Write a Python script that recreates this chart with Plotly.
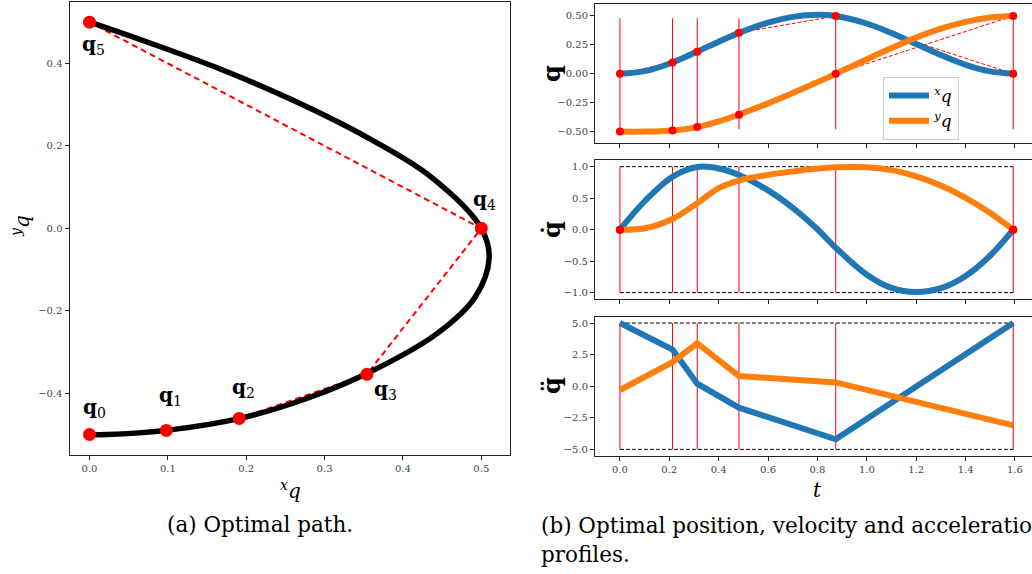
import plotly.graph_objects as go

# ---------------- data ----------------
# sampled trajectory (read from the picture)
t_samp = [0, 0.1, 0.213, 0.313, 0.4, 0.482, 0.6, 0.7, 0.8, 0.874, 1.0, 1.1, 1.2, 1.3, 1.4, 1.5, 1.593]
xq = [0.0, 0.023, 0.098, 0.192, 0.278, 0.354, 0.443, 0.492, 0.510, 0.500, 0.435, 0.352, 0.257, 0.162, 0.078, 0.021, 0.0]
yq = [-0.5, -0.5, -0.49, -0.461, -0.412, -0.352, -0.256, -0.167, -0.072, 0.0, 0.126, 0.223, 0.313, 0.390, 0.449, 0.487, 0.5]
vx = [0.0, 0.451, 0.841, 0.996, 0.971, 0.869, 0.624, 0.347, 0.006, -0.287, -0.715, -0.925, -0.99, -0.93, -0.735, -0.41, 0.0]
vy = [0.0, 0.022, 0.170, 0.420, 0.660, 0.780, 0.870, 0.925, 0.970, 0.990, 0.990, 0.945, 0.845, 0.700, 0.505, 0.265, 0.0]

# waypoints
t_wp = [0.0, 0.213, 0.313, 0.482, 0.874, 1.593]
x_wp = [0.0, 0.098, 0.191, 0.354, 0.5, 0.0]
y_wp = [-0.5, -0.49, -0.461, -0.354, 0.0, 0.5]
wp_labels = ["0", "1", "2", "3", "4", "5"]

# accelerations at waypoints (piecewise linear)
ax_wp = [5.0, 2.9, 0.2, -1.7, -4.2, 5.0]
ay_wp = [-0.3, 1.9, 3.4, 0.8, 0.3, -3.1]

# limits
q_vline = [-0.48, 0.48]
v_lim = [-1.0, 1.0]
a_lim = [-5.0, 5.0]

x_ticks_left = [0.0, 0.1, 0.2, 0.3, 0.4, 0.5]
y_ticks_left = [-0.4, -0.2, 0.0, 0.2, 0.4]
t_ticks = [0.0, 0.2, 0.4, 0.6, 0.8, 1.0, 1.2, 1.4, 1.6]
q_ticks = [-0.5, -0.25, 0.0, 0.25, 0.5]
v_ticks = [-1.0, -0.5, 0.0, 0.5, 1.0]
a_ticks = [-5.0, -2.5, 0.0, 2.5, 5.0]

# ---------------- style ----------------
BLUE = "#1f77b4"
ORANGE = "#ff7f0e"
RED = "#ff0000"
SERIF = "DejaVu Serif"
W, H = 1032, 574

fig = go.Figure()


def vlines(ts, lo, hi):
    xs, ys = [], []
    for t in ts:
        xs += [t, t, None]
        ys += [lo, hi, None]
    return xs, ys


# ---------- left: optimal path ----------
fig.add_trace(go.Scatter(x=x_wp, y=y_wp, mode="lines", line=dict(color=RED, width=2, dash="6px,4px"),
                         xaxis="x", yaxis="y", showlegend=False))
fig.add_trace(go.Scatter(x=xq, y=yq, mode="lines", line=dict(color="black", width=5.5, shape="spline"),
                         xaxis="x", yaxis="y", showlegend=False))
fig.add_trace(go.Scatter(x=x_wp, y=y_wp, mode="markers", marker=dict(color=RED, size=13),
                         xaxis="x", yaxis="y", showlegend=False))

# ---------- right top: positions ----------
vxs, vys = vlines(t_wp, q_vline[0], q_vline[1])
fig.add_trace(go.Scatter(x=vxs, y=vys, mode="lines", line=dict(color=RED, width=1),
                         xaxis="x2", yaxis="y2", showlegend=False))
for ys in (x_wp, y_wp):
    fig.add_trace(go.Scatter(x=t_wp, y=ys, mode="lines", line=dict(color=RED, width=1, dash="4px,2px"),
                             xaxis="x2", yaxis="y2", showlegend=False))
fig.add_trace(go.Scatter(x=t_samp, y=xq, mode="lines", line=dict(color=BLUE, width=6, shape="spline"),
                         xaxis="x2", yaxis="y2", name="<sup><i>x</i></sup><i>q</i>", showlegend=True))
fig.add_trace(go.Scatter(x=t_samp, y=yq, mode="lines", line=dict(color=ORANGE, width=6, shape="spline"),
                         xaxis="x2", yaxis="y2", name="<sup><i>y</i></sup><i>q</i>", showlegend=True))
for ys in (x_wp, y_wp):
    fig.add_trace(go.Scatter(x=t_wp, y=ys, mode="markers", marker=dict(color=RED, size=8),
                             xaxis="x2", yaxis="y2", showlegend=False))

# ---------- right middle: velocities ----------
vxs, vys = vlines(t_wp, v_lim[0], v_lim[1])
fig.add_trace(go.Scatter(x=vxs, y=vys, mode="lines", line=dict(color=RED, width=1),
                         xaxis="x3", yaxis="y3", showlegend=False))
for lim in v_lim:
    fig.add_trace(go.Scatter(x=[t_wp[0], t_wp[-1]], y=[lim, lim], mode="lines",
                             line=dict(color="black", width=1, dash="4px,2px"),
                             xaxis="x3", yaxis="y3", showlegend=False))
fig.add_trace(go.Scatter(x=t_samp, y=vx, mode="lines", line=dict(color=BLUE, width=6, shape="spline"),
                         xaxis="x3", yaxis="y3", showlegend=False))
fig.add_trace(go.Scatter(x=t_samp, y=vy, mode="lines", line=dict(color=ORANGE, width=6, shape="spline"),
                         xaxis="x3", yaxis="y3", showlegend=False))
fig.add_trace(go.Scatter(x=[t_samp[0], t_samp[-1], t_samp[0], t_samp[-1]],
                         y=[vx[0], vx[-1], vy[0], vy[-1]], mode="markers",
                         marker=dict(color=RED, size=8), xaxis="x3", yaxis="y3", showlegend=False))

# ---------- right bottom: accelerations ----------
vxs, vys = vlines(t_wp, a_lim[0], a_lim[1])
fig.add_trace(go.Scatter(x=vxs, y=vys, mode="lines", line=dict(color=RED, width=1),
                         xaxis="x4", yaxis="y4", showlegend=False))
for lim in a_lim:
    fig.add_trace(go.Scatter(x=[t_wp[0], t_wp[-1]], y=[lim, lim], mode="lines",
                             line=dict(color="black", width=1, dash="4px,2px"),
                             xaxis="x4", yaxis="y4", showlegend=False))
fig.add_trace(go.Scatter(x=t_wp, y=ax_wp, mode="lines", line=dict(color=BLUE, width=6),
                         xaxis="x4", yaxis="y4", showlegend=False))
fig.add_trace(go.Scatter(x=t_wp, y=ay_wp, mode="lines", line=dict(color=ORANGE, width=6),
                         xaxis="x4", yaxis="y4", showlegend=False))


# ---------------- axes ----------------
def px_x(p):
    return p / W


def px_y(p):
    return 1 - p / H


axis_common = dict(showline=True, linecolor="#222", linewidth=1, ticks="outside", ticklen=4,
                   tickwidth=1, tickcolor="#222", showgrid=False, zeroline=False,
                   tickfont=dict(family=SERIF, size=10, color="#444"))

layout_axes = {}
layout_axes["xaxis"] = dict(axis_common, domain=[px_x(69.5), px_x(509.5)], range=[-0.0255, 0.536],
                            tickvals=x_ticks_left, tickformat=".1f", mirror=True, anchor="y")
layout_axes["yaxis"] = dict(axis_common, domain=[px_y(455), px_y(1.7)], range=[-0.5497, 0.5497],
                            tickvals=y_ticks_left, tickformat=".1f", mirror=True, anchor="x")

rx = dict(axis_common, domain=[px_x(595), 1.0], range=[-0.101, 1.669], tickvals=t_ticks, mirror=True)
ry = dict(axis_common, mirror=False)
layout_axes["xaxis2"] = dict(rx, anchor="y2", showticklabels=False)
layout_axes["yaxis2"] = dict(ry, anchor="x2", domain=[px_y(143.3), px_y(4.3)], range=[-0.601, 0.601],
                             tickvals=q_ticks, tickformat=".2f")
layout_axes["xaxis3"] = dict(rx, anchor="y3", showticklabels=False)
layout_axes["yaxis3"] = dict(ry, anchor="x3", domain=[px_y(299.3), px_y(160)], range=[-1.106, 1.106],
                             tickvals=v_ticks, tickformat=".1f")
layout_axes["xaxis4"] = dict(rx, anchor="y4", tickformat=".1f")
layout_axes["yaxis4"] = dict(ry, anchor="x4", domain=[px_y(455.7), px_y(316.7)], range=[-5.5, 5.5],
                             tickvals=a_ticks, tickformat=".1f")

# ---------------- annotations ----------------
ann = []
label_shift = [(5, 27), (4, 34), (4, 30), (19, -16), (3, 28), (4, -23)]
for xi, yi, lab, (sx, sy) in zip(x_wp, y_wp, wp_labels, label_shift):
    ann.append(dict(x=xi, y=yi, xref="x", yref="y", text=f"<b>q</b><sub>{lab}</sub>", showarrow=False,
                    xshift=sx, yshift=sy, font=dict(family=SERIF, size=20, color="black")))


def pann(x, y, text, size, angle=0, xanchor="center"):
    return dict(x=px_x(x), y=px_y(y), xref="paper", yref="paper", text=text, showarrow=False,
                textangle=angle, xanchor=xanchor, yanchor="middle",
                font=dict(family=SERIF, size=size, color="black"))


ann.append(pann(290, 490, "<sup><i>x</i></sup><i>q</i>", 20))
ann.append(pann(21, 226, "<sup><i>y</i></sup><i>q</i>", 20, angle=-90))
ann.append(pann(551, 74, "<b>q</b>", 24, angle=-90))
ann.append(pann(551, 230, "<b>q\u0307</b>", 24, angle=-90))
ann.append(pann(551, 386, "<b>q\u0308</b>", 24, angle=-90))
ann.append(pann(817, 490, "<i>t</i>", 20))
ann.append(pann(260, 524, "(a) Optimal path.", 21.5))
ann.append(pann(539, 525, "(b) Optimal position, velocity and acceleration", 21.5, xanchor="left"))
ann.append(pann(539, 554, "profiles.", 21.5, xanchor="left"))

fig.update_layout(
    width=W, height=H, margin=dict(l=0, r=0, t=0, b=0),
    paper_bgcolor="white", plot_bgcolor="white",
    annotations=ann,
    legend=dict(x=px_x(883), y=px_y(77), xanchor="left", yanchor="top", bgcolor="rgba(255,255,255,0.85)",
                bordercolor="#cccccc", borderwidth=1, font=dict(family=SERIF, size=17, color="black"),
                itemwidth=40, tracegroupgap=0),
    **layout_axes,
)

fig.write_html("out.html", config={"displayModeBar": False},
               post_script="document.body.style.margin='0';document.body.style.overflow='hidden';")
